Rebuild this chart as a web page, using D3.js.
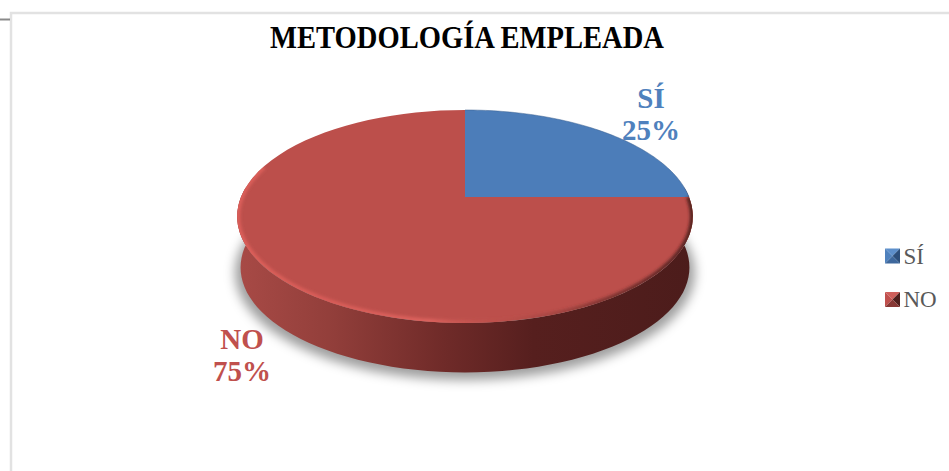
<!DOCTYPE html>
<html>
<head>
<meta charset="utf-8">
<script src="https://cdn.jsdelivr.net/npm/d3@7"></script>
<style>
  html, body { margin: 0; padding: 0; background: #fff; }
  svg { display: block; }
  text { font-family: "Liberation Serif", serif; }
</style>
</head>
<body>
<svg id="chart" width="949" height="471"></svg>
<script>
const titleText = "METODOLOGÍA EMPLEADA";
const categories = ["SÍ", "NO"];
const percents = [25, 75];
const faceColors = ["#4c7db9", "#bc4f4b"];
const labelColors = ["#4f81bd", "#c0504d"];
const legendLight = ["#5d8fcb", "#cf5f5b"];
const legendDark = ["#2c4f7c", "#4f1f1d"];

const width = 949;
const height = 471;
// tilt of the pie: apex at (cx,cy), perspective factor k
const cx = 465;
const cy = 197;
const rx = 224;
const ky = 66.9;
const k = -0.183;
const depth = 50;
const bottomScale = 0.985;

const svg = d3.select("#chart");
const defs = svg.append("defs");

const blur = defs.append("filter").attr("id", "shadowBlur")
    .attr("x", "-10%").attr("y", "-20%").attr("width", "120%").attr("height", "140%");
blur.append("feGaussianBlur").attr("stdDeviation", 5);
const soft = defs.append("filter").attr("id", "rimBlur")
    .attr("x", "-5%").attr("y", "-5%").attr("width", "110%").attr("height", "110%");
soft.append("feGaussianBlur").attr("stdDeviation", 1.5);

function stops(id, list) {
  let g = defs.append("linearGradient").attr("id", id)
      .attr("gradientUnits", "userSpaceOnUse")
      .attr("x1", cx - 228).attr("x2", cx + 228).attr("y1", 0).attr("y2", 0);
  list.forEach(s => {
    g.append("stop").attr("offset", s[0]).attr("stop-color", s[1]).attr("stop-opacity", s[2] === undefined ? 1 : s[2]);
  });
}
stops("sideGrad", [[0, "#a84a46"], [0.2, "#933f3b"], [0.45, "#702b29"], [0.65, "#561f1e"], [1, "#4c1c1b"]]);
stops("rimGrad", [[0, "#dc5f5a"], [0.2, "#d85c58"], [0.42, "#dc625d"], [0.58, "#bc4f4b", 0.3], [0.8, "#5a2422", 0.6], [1, "#4a1c1b", 0.9]]);

// angle in d3.pie terms (0 at 12 o'clock, clockwise) to screen
function project(a, r = 1) {
  let u = r * Math.sin(a), v = -r * Math.cos(a);
  let w = 1 + k * v;
  return [cx + rx * u / w, (cy + ky * v) / w];
}
function projectBottom(a) {
  let p = project(a);
  return [cx + (p[0] - cx) * bottomScale, 216 + (p[1] - 216) * bottomScale + depth + 1];
}

const pie = d3.pie().sort(null).value(d => d);
const slices = pie(percents);
const line = d3.line();
const steps = a0 => d3.range(0, 73).map(i => a0[0] + (a0[1] - a0[0]) * i / 72);
const fullTurn = [0, 2 * Math.PI];
const frontTurn = [Math.PI * 0.47, Math.PI * 1.53];
const rimTurn = [slices[1].startAngle, Math.PI * 1.6];

defs.append("clipPath").attr("id", "faceClip").append("path")
    .attr("d", line(steps(fullTurn).map(a => project(a))) + "Z");

// frame of the chart area
svg.append("path").attr("d", line([[11, height], [11, 13], [width, 13]]))
    .attr("fill", "none").attr("stroke", "#e2e2e2").attr("stroke-width", 2.5);
svg.append("line").attr("x1", 0).attr("x2", 10).attr("y1", 19.5).attr("y2", 19.5)
    .attr("stroke", "#8a8a8a").attr("stroke-width", 2);

// shadow under the pie
svg.append("path")
    .attr("d", line(steps(fullTurn).map(a => { let p = projectBottom(a); return [p[0], p[1] + 5]; })) + "Z")
    .attr("transform", `translate(${cx} 268) scale(1.025) translate(${-cx} -268)`)
    .attr("fill", "#000").attr("fill-opacity", 0.38).attr("filter", "url(#shadowBlur)");

// side wall
const topFront = steps(frontTurn).map(a => project(a));
const bottomFront = steps(frontTurn).map(projectBottom).reverse();
svg.append("path")
    .attr("d", line(topFront.concat(bottomFront)) + "Z")
    .attr("fill", "url(#sideGrad)");

// top face
svg.selectAll("path.slice").data(slices).join("path")
    .attr("class", "slice")
    .attr("fill", (d, i) => faceColors[i])
    .attr("d", d => line([[cx, cy]].concat(steps([d.startAngle, d.endAngle]).map(a => project(a)))) + "Z");

// bevel along the front of the red rim, kept inside the face
svg.append("g").attr("clip-path", "url(#faceClip)")
  .append("path")
    .attr("d", line(steps(rimTurn).map(a => project(a))))
    .attr("fill", "none").attr("stroke", "url(#rimGrad)").attr("stroke-width", 6)
    .attr("filter", "url(#rimBlur)");
svg.append("path")
    .attr("d", line(steps([slices[0].startAngle, slices[0].endAngle]).map(a => project(a))))
    .attr("fill", "none").attr("stroke", "#3a5f8f").attr("stroke-opacity", 0.5).attr("stroke-width", 1);

// title
svg.append("text").attr("x", 270).attr("y", 48)
    .attr("textLength", 394).attr("lengthAdjust", "spacingAndGlyphs")
    .attr("font-weight", "bold").attr("font-size", 32).attr("fill", "#000")
    .text(titleText);

// data labels
const labelPos = [[651, 108], [242, 349]];
const labels = svg.selectAll("g.label").data(categories).join("g").attr("class", "label")
    .attr("transform", (d, i) => `translate(${labelPos[i][0]} ${labelPos[i][1]})`)
    .attr("text-anchor", "middle").attr("font-weight", "bold").attr("font-size", 29)
    .attr("fill", (d, i) => labelColors[i]);
labels.append("text").text(d => d);
labels.append("text").attr("y", 32).text((d, i) => percents[i] + "%");

// legend
const legendY = d3.scalePoint().domain(categories).range([256, 299.5]);
const legend = svg.selectAll("g.legend").data(categories).join("g").attr("class", "legend")
    .attr("transform", d => `translate(892.5 ${legendY(d)})`);
const s = 7.5;
const facets = [
  {pts: [[-s, -s], [s, -s], [0, 0]], tone: 0},
  {pts: [[-s, -s], [0, 0], [-s, s]], tone: 1},
  {pts: [[s, -s], [0, 0], [s, s]], tone: 2},
  {pts: [[-s, s], [0, 0], [s, s]], tone: 3}
];
facets.forEach(f => {
  legend.append("path").attr("d", line(f.pts) + "Z")
      .attr("fill", (d, i) => {
        if (f.tone === 0) return legendLight[i];
        if (f.tone === 1) return labelColors[i];
        if (f.tone === 2) return legendDark[i];
        return d3.interpolateRgb(labelColors[i], legendDark[i])(0.5);
      });
});
legend.append("text").attr("x", 11).attr("y", 7.5).attr("font-size", 23).attr("fill", "#595959")
    .text(d => d);
</script>
</body>
</html>
